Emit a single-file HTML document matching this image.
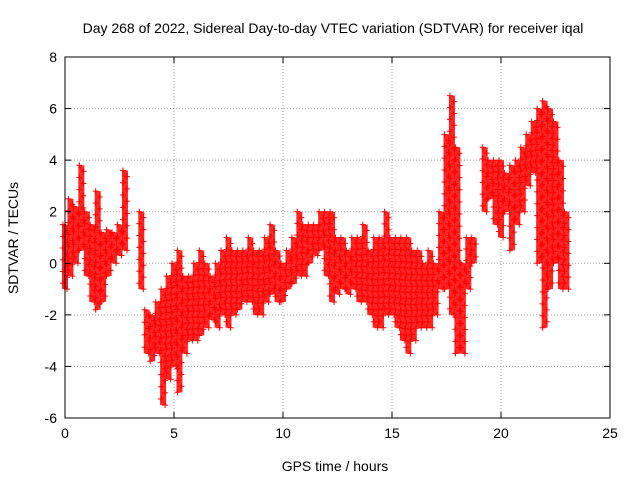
<!DOCTYPE html>
<html><head><meta charset="utf-8"><style>
body{margin:0;background:#fff;}
svg{display:block;font-family:"Liberation Sans",sans-serif;}
</style></head><body>
<svg id="chart" width="640" height="480">
<text x="333" y="33" font-size="14" text-anchor="middle">Day 268 of 2022, Sidereal Day-to-day VTEC variation (SDTVAR) for receiver iqal</text>
<text x="335" y="471" font-size="14" text-anchor="middle">GPS time / hours</text>
<text transform="translate(18,238) rotate(-90)" font-size="14" text-anchor="middle">SDTVAR / TECUs</text>
<g id="grid"></g><g id="marks"></g><g id="axes"></g>
</svg>
<script>
const times=[0,0.25,0.5,0.75,1,1.25,1.5,1.75,2,2.25,2.5,2.75,3,3.25,3.5,3.75,4,4.25,4.5,4.75,5,5.25,5.5,5.75,6,6.25,6.5,6.75,7,7.25,7.5,7.75,8,8.25,8.5,8.75,9,9.25,9.5,9.75,10,10.25,10.5,10.75,11,11.25,11.5,11.75,12,12.25,12.5,12.75,13,13.25,13.5,13.75,14,14.25,14.5,14.75,15,15.25,15.5,15.75,16,16.25,16.5,16.75,17,17.25,17.5,17.75,18,18.25,18.5,18.75,19,19.25,19.5,19.75,20,20.25,20.5,20.75,21,21.25,21.5,21.75,22,22.25,22.5,22.75,23];
const upper=[1.5,2.5,2.2,3.8,2,1.5,2.8,1.2,1.3,1.2,1.5,3.6,null,null,2,-1.8,-2,-1.5,-1,-0.5,0,0.5,-0.5,-0.5,0,0.5,0,-0.5,0,0.5,1,0.5,0.5,0.5,1,0.5,0.5,1,1.5,0.5,0,0.5,1,2,1.5,1.5,1.5,2,2,2,1,1,0.5,1,1,1.5,0.5,1,1,2,1,1,1,1,0.5,0.5,0,0.5,0,2,5,6.5,4.5,0,1,1,null,4.5,4,4,4,3.5,3.8,4,4.5,5,5.5,6,6.3,6,5.5,4,2];
const lower=[-1,-0.5,0,0.5,-0.5,-1.5,-1.8,-1.5,-0.5,0,0.3,0.5,null,null,-1,-3.5,-3.8,-3.5,-5.5,-4.5,-4,-5,-3.5,-3,-3,-2.8,-2.5,-2.2,-2.5,-2,-2.5,-2,-1.8,-1.5,-1.5,-2,-2,-1.5,-1.2,-1.5,-1.5,-1,-0.8,-0.5,-0.5,0,0.3,0.5,-0.5,-1.5,-1.2,-1,-1.2,-1,-1.5,-1.5,-2,-2.5,-2.5,-2,-2,-2.5,-3,-3.5,-3,-2.5,-2.5,-2.5,-2,-1,-1,-2,-3.5,-3.5,-1,0,null,2,2.5,1.5,1,2,0.5,1.5,2,3,3.5,0,-2.5,-1,0,-1,-1];
const xTicks=[0,5,10,15,20,25];
const yTicks=[-6,-4,-2,0,2,4,6,8];
const L=65,R=610,T=57,B=418;
const xs=v=>L+(v-0)/25*(R-L);
const ys=v=>B-(v+6)/14*(B-T);
const NS="http://www.w3.org/2000/svg";
function mk(tag,attrs,parent){const e=document.createElementNS(NS,tag);for(const k in attrs)e.setAttribute(k,attrs[k]);parent.appendChild(e);return e;}
const grid=document.getElementById('grid'),marks=document.getElementById('marks'),axes=document.getElementById('axes');
xTicks.forEach(t=>{
  const x=xs(t);
  if(t>0&&t<25){const g=mk('line',{x1:x,x2:x,y1:T,y2:B,stroke:'#a0a0a0','stroke-dasharray':'1,2'},grid);
  
  }
  mk('line',{x1:x,x2:x,y1:B,y2:B-6,stroke:'#000'},axes);
  mk('line',{x1:x,x2:x,y1:T,y2:T+6,stroke:'#000'},axes);
  const tx=mk('text',{x:x,y:B+20,'font-size':14,'text-anchor':'middle'},axes);tx.textContent=t;
  
  
});
yTicks.forEach(t=>{
  const y=ys(t);
  if(t>-6&&t<8){const g=mk('line',{x1:L,x2:R,y1:y,y2:y,stroke:'#a0a0a0','stroke-dasharray':'1,2'},grid);
  
  }
  mk('line',{x1:L,x2:L+6,y1:y,y2:y,stroke:'#000'},axes);
  mk('line',{x1:R,x2:R-6,y1:y,y2:y,stroke:'#000'},axes);
  const tx=mk('text',{x:L-8,y:y+5,'font-size':14,'text-anchor':'end'},axes);tx.textContent=t;
  
  
});
const frame=mk('rect',{x:L,y:T,width:R-L,height:B-T,fill:'none',stroke:'#000'},axes);


function plus(x,y){const p=mk('path',{d:`M${x-3},${y}h6M${x},${y-3}v6`,stroke:'#ff0000',fill:'none','stroke-width':1},marks);
  
  }
times.forEach((t,i)=>{
  const u=upper[i],lo=lower[i];
  if(u==null||lo==null)return;
  const x=xs(t);
  const b=mk('rect',{x:x-3,y:ys(u),width:6,height:Math.max(1,ys(lo)-ys(u)),fill:'#ff0000','fill-opacity':0.85},marks);
  
  
  const n=Math.max(2,Math.round((ys(lo)-ys(u))/6));
  for(let k=0;k<=n;k++){plus(x+((k%2)?2:-2),ys(u)+(ys(lo)-ys(u))*k/n);}
});
</script>
</body></html>
